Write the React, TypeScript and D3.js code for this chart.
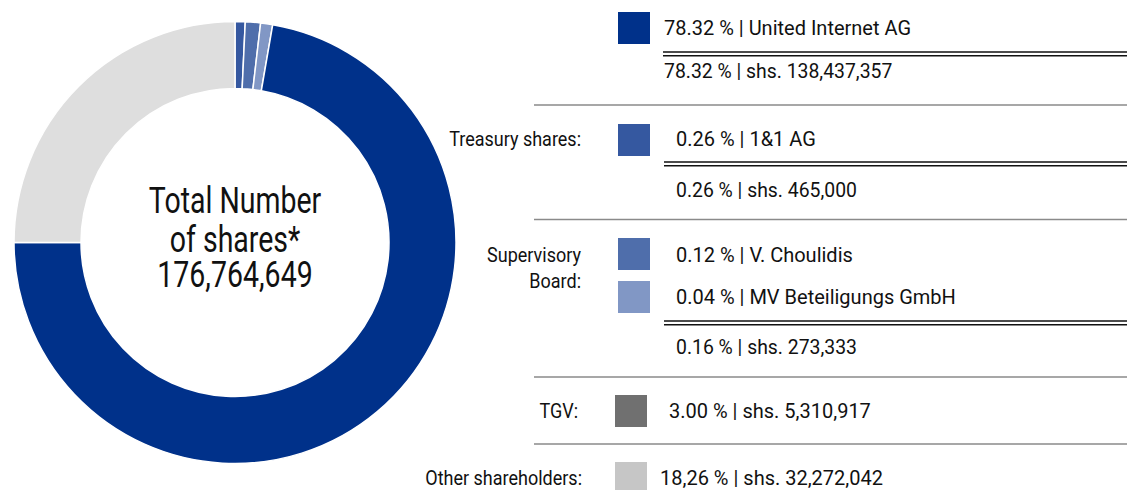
import React from "react";
import * as d3 from "d3";

// ---- data ----
const donutNames = ["1&1 AG (treasury)", "V. Choulidis", "MV Beteiligungs GmbH", "United Internet AG", "Other shareholders"];
const donutValues = [0.74, 1.11, 0.88, 72.27, 25.0];
const donutColors = ["#3558a0", "#4f6eab", "#8197c5", "#00318a", "#dedede"];

const centerLines = ["Total Number", "of shares*", "176,764,649"];

const groupLabels = [[""], ["Treasury shares:"], ["Supervisory", "Board:"], ["TGV:"], ["Other shareholders:"]];
const itemTexts = [
  "78.32 % | United Internet AG",
  "0.26 % | 1&1 AG",
  "0.12 % | V. Choulidis",
  "0.04 % | MV Beteiligungs GmbH",
  "3.00 % | shs. 5,310,917",
  "18,26 % | shs. 32,272,042",
];
const itemColors = ["#00318a", "#3558a0", "#4f6eab", "#8197c5", "#707070", "#c6c6c6"];
const totalTexts = ["78.32 % | shs. 138,437,357", "0.26 % | shs. 465,000", "0.16 % | shs. 273,333"];

// ---- layout (not data) ----
const W = 1127, H = 490;
const FONT = "Roboto, 'Noto Sans', sans-serif";
const cx = 235, cy = 242.5, rOuter = 221, rInner = 154;

const itemLayout = [
  { sx: 618, sy: 12, tx: 664, ty: 35 },
  { sx: 618, sy: 124, tx: 676, ty: 146 },
  { sx: 618, sy: 238, tx: 676, ty: 262 },
  { sx: 618, sy: 281, tx: 676, ty: 304 },
  { sx: 615, sy: 395, tx: 669, ty: 418 },
  { sx: 615, sy: 462, tx: 660, ty: 485 },
];
const groupLayout = [
  { x: 581, y: [35] },
  { x: 581, y: [146] },
  { x: 581, y: [262, 288] },
  { x: 578, y: [418] },
  { x: 582, y: [485] },
];
const totalLayout = [
  { lx: 663, ly: 52, tx: 664, ty: 78 },
  { lx: 664, ly: 162, tx: 676, ty: 197 },
  { lx: 664, ly: 321, tx: 676, ty: 354 },
];
const separators = [105, 219.5, 377, 444];
const centerY = [-29.5, 9, 44.2];

export default function App() {
  const pie = d3.pie<number>().sort(null).value((d) => d)(donutValues);
  const arc = d3.arc<d3.PieArcDatum<number>>().innerRadius(rInner).outerRadius(rOuter);

  return (
    <svg width={W} height={H} style={{ position: "absolute", left: 0, top: 0, background: "#fff" }}
      fontFamily={FONT}>
      <g transform={`translate(${cx},${cy})`}>
        {pie.map((p, i) => (
          <path key={i} d={arc(p) || ""} fill={donutColors[i]} stroke="#fff" strokeWidth={1.5}>
            <title>{donutNames[i]}</title>
          </path>
        ))}
        {centerLines.map((t, i) => (
          <g key={i} transform={`translate(0,${centerY[i]}) scale(0.76,1)`}>
            <text x={0} y={0} textAnchor="middle" fontSize={37.5} fill="#111">{t}</text>
          </g>
        ))}
      </g>

      {separators.map((y, i) => (
        <line key={i} x1={534} x2={W} y1={y} y2={y} stroke="#8a8a8a" strokeWidth={1.5} />
      ))}

      {groupLabels.map((lines, i) => (
        <g key={i} transform={`translate(${groupLayout[i].x},0) scale(0.9,1)`}>
          <text textAnchor="end" fontSize={20} fill="#111">
            {lines.map((l, j) => (
              <tspan key={j} x={0} y={groupLayout[i].y[j]}>{l}</tspan>
            ))}
          </text>
        </g>
      ))}

      {itemTexts.map((t, i) => (
        <g key={i}>
          <rect x={itemLayout[i].sx} y={itemLayout[i].sy} width={32} height={32} fill={itemColors[i]} />
          <text x={itemLayout[i].tx} y={itemLayout[i].ty} fontSize={20} fill="#111">{t}</text>
        </g>
      ))}

      {totalTexts.map((t, i) => (
        <g key={i}>
          <line x1={totalLayout[i].lx} x2={W} y1={totalLayout[i].ly} y2={totalLayout[i].ly} stroke="#111" strokeWidth={1.6} />
          <line x1={totalLayout[i].lx} x2={W} y1={totalLayout[i].ly + 3.7} y2={totalLayout[i].ly + 3.7} stroke="#111" strokeWidth={1.6} />
          <g transform={`translate(${totalLayout[i].tx},0) scale(0.97,1)`}>
            <text x={0} y={totalLayout[i].ty} fontSize={20} fill="#111">{t}</text>
          </g>
        </g>
      ))}
    </svg>
  );
}
